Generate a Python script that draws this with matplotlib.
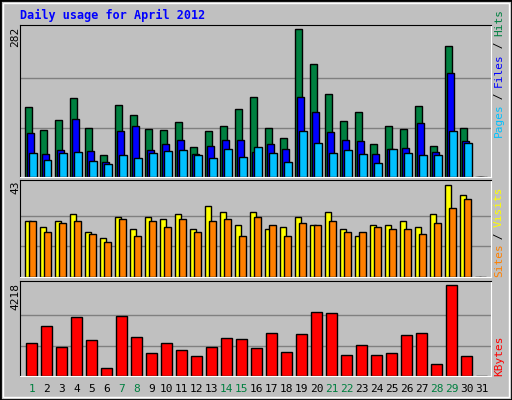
import matplotlib
matplotlib.use("Agg")
import matplotlib.pyplot as plt
from matplotlib.patches import Rectangle
import numpy as np

days = list(range(1, 32))
hits = [133, 89, 108, 150, 94, 41, 138, 119, 92, 89, 104, 58, 87, 98, 129, 152, 94, 75, 282, 215, 158, 106, 123, 62, 98, 92, 135, 60, 249, 94, 0]
files = [83, 43, 52, 110, 50, 29, 87, 98, 52, 62, 70, 43, 60, 70, 70, 48, 62, 54, 152, 123, 85, 70, 68, 43, 54, 56, 102, 47, 198, 68, 0]
pages = [45, 33, 45, 47, 31, 24, 41, 37, 45, 50, 52, 41, 37, 54, 39, 58, 45, 29, 87, 64, 45, 52, 43, 27, 54, 45, 41, 41, 87, 64, 0]
visits = [26.2, 23.4, 26.2, 29.4, 21, 18.2, 28, 22.4, 28, 27.1, 29.4, 22.4, 33.2, 30.4, 24.3, 30.4, 22.4, 23.4, 28, 24.3, 30.4, 22.4, 19.2, 24.3, 24.3, 26.2, 23.4, 29.4, 43, 38.3, 0]
sites = [26.2, 21, 25.2, 26.2, 20.1, 16.4, 27.1, 19.2, 26.2, 23.4, 27.1, 21, 26.2, 27.1, 19.2, 28, 24.3, 19.2, 25.2, 24.3, 26.2, 21, 21, 23.4, 22.4, 22.4, 20.1, 25.2, 32.2, 36.5, 0]
kbytes = [1539, 2325, 1355, 2740, 1678, 385, 2786, 1817, 1078, 1539, 1216, 939, 1355, 1770, 1724, 1309, 2001, 1124, 1955, 2971, 2925, 985, 1447, 985, 1078, 1909, 2001, 570, 4218, 939, 0]
weekend = [1, 7, 8, 14, 15, 21, 22, 28, 29]
max_hits, max_visits, max_kb = 282, 43, 4218

BG = "#c0c0c0"
MONO = "DejaVu Sans Mono"
fig = plt.figure(figsize=(5.12, 4.0), dpi=100, facecolor=BG)
W, H = 512, 400
fig.patches.append(Rectangle((0, 0), 1, 1, transform=fig.transFigure, fill=False, ec="black", lw=2))
fig.patches.append(Rectangle((3/W, 3/H), 1-6/W, 1-6/H, transform=fig.transFigure, fill=False, ec="white", lw=1))

def mkax(top, bot, ymax):
    ax = fig.add_axes([20/W, 1-bot/H, 471/W, (bot-top)/H])
    ax.set_facecolor(BG)
    ax.set_xlim(0.667, 0.667 + 471/15)
    ax.set_ylim(0, ymax)
    for s in ["left", "top"]:
        ax.spines[s].set_color("black")
    for s in ["right", "bottom"]:
        ax.spines[s].set_color("white")
    ax.set_xticks([]); ax.set_yticks([])
    return ax

d = np.array(days, dtype=float)
ec = dict(edgecolor="black", linewidth=1, align="edge")

ax1 = mkax(25, 177, max_hits*152/148)
for g in (max_hits/3, 2*max_hits/3):
    ax1.axhline(g, color="#808080", lw=1, zorder=0)
ax1.bar(d, hits, 0.467, color="#008040", **ec)
ax1.bar(d+0.133, files, 0.467, color="#0000ff", **ec)
ax1.bar(d+0.267, pages, 0.5, color="#00c0ff", **ec)

ax2 = mkax(180, 277, max_visits*97/92)
for g in (max_visits/3, 2*max_visits/3):
    ax2.axhline(g, color="#808080", lw=1, zorder=0)
ax2.bar(d, visits, 0.4, color="#ffff00", **ec)
ax2.bar(d+0.267, sites, 0.467, color="#ff8000", **ec)

ax3 = mkax(281, 376, max_kb*95/91.4)
for g in (max_kb/3, 2*max_kb/3):
    ax3.axhline(g, color="#808080", lw=1, zorder=0)
ax3.bar(d+0.09, kbytes, 0.69, color="#ff0000", **ec)

for d_ in days:
    xf = (20 + (d_ - 0.667 + 0.45) * 15) / W
    fig.text(xf, 1-389/H, str(d_), ha="center", va="center", fontsize=8, family=MONO,
             color="#008040" if d_ in weekend else "black")

fig.text(20/W, 1-15/H, "Daily usage for April 2012", fontsize=8.5, family=MONO,
         weight="bold", color="#0000ff", va="center")
for txt, y in ((str(max_hits), 37), (str(max_visits), 187), (str(max_kb), 297)):
    fig.text(15/W, 1-y/H, txt, rotation=90, fontsize=8, family=MONO, ha="center", va="center")

def vlegend(parts, ybot):
    y = ybot
    for txt, col in parts:
        fig.text(499/W, 1-y/H, txt, rotation=90, fontsize=8, family=MONO,
                 color=col, ha="center", va="bottom")
        y -= len(txt) * 6.3
vlegend([("Pages", "#00c0ff"), (" / ", "black"), ("Files", "#0000ff"), (" / ", "black"), ("Hits", "#008040")], 137)
vlegend([("Sites", "#ff8000"), (" / ", "black"), ("Visits", "#ffff00")], 277)
vlegend([("KBytes", "#ff0000")], 376)

fig.savefig("out.png", dpi=100, facecolor=BG)
